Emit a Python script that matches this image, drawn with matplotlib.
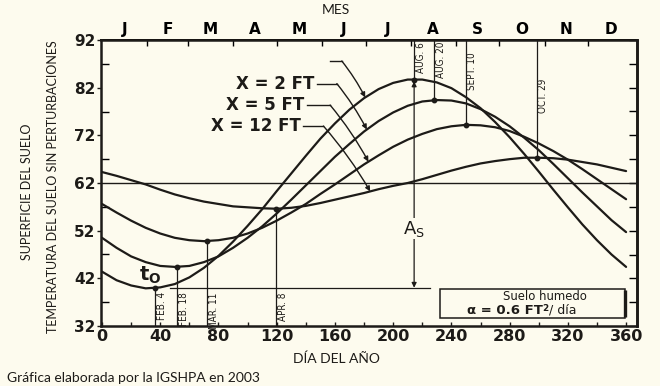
import numpy as np
import matplotlib
matplotlib.use("Agg")
import matplotlib.pyplot as plt
from matplotlib.patches import Rectangle

# ---------------- data ----------------
days = list(range(0, 361, 10))
t_surface = [43.4, 41.6, 40.5, 39.9, 40.1, 40.8, 42.2, 44.2, 46.7, 49.7, 53.0, 56.5, 60.3,
             64.0, 67.7, 71.3, 74.5, 77.4, 79.8, 81.7, 83.0, 83.7, 83.7, 83.1, 81.9, 80.0,
             77.7, 74.8, 71.6, 68.1, 64.4, 60.6, 56.9, 53.3, 50.0, 47.0, 44.4]
t_2ft = [50.5, 48.4, 46.6, 45.4, 44.6, 44.4, 44.6, 45.4, 46.6, 48.4, 50.5, 52.9, 55.6,
         58.5, 61.5, 64.5, 67.5, 70.2, 72.8, 75.0, 76.8, 78.2, 79.1, 79.4, 79.3, 78.7,
         77.5, 75.9, 73.9, 71.5, 68.9, 66.0, 63.0, 60.0, 57.1, 54.2, 51.7]
t_5ft = [57.6, 55.8, 54.1, 52.6, 51.4, 50.5, 50.0, 49.8, 50.0, 50.5, 51.4, 52.6, 54.1,
         55.8, 57.6, 59.7, 61.7, 63.8, 65.9, 67.8, 69.6, 71.1, 72.3, 73.3, 73.9, 74.2,
         74.1, 73.7, 72.9, 71.7, 70.3, 68.7, 66.9, 64.9, 62.8, 60.7, 58.6]
t_12ft = [64.3, 63.5, 62.6, 61.7, 60.6, 59.6, 58.8, 58.1, 57.6, 57.1, 56.9, 56.7, 56.6,
          56.8, 57.2, 57.8, 58.5, 59.2, 59.9, 60.7, 61.4, 62.0, 62.8, 63.7, 64.6, 65.4,
          66.1, 66.6, 67.0, 67.3, 67.3, 67.2, 66.9, 66.4, 65.9, 65.2, 64.5]
mean_temp = 62

months = ["J", "F", "M", "A", "M", "J", "J", "A", "S", "O", "N", "D"]
month_len = [31, 28, 31, 30, 31, 30, 31, 31, 30, 31, 30, 31]

x_ticks = [0, 40, 80, 120, 160, 200, 240, 280, 320, 360]
y_ticks = [32, 42, 52, 62, 72, 82, 92]

date_labels = ["FEB. 4", "FEB. 18", "MAR. 11", "APR. 8", "AUG. 6", "AUG. 20", "SEPT. 10", "OCT. 29"]
date_days = [36.6, 51.3, 72, 119.4, 214.4, 228, 249.7, 298.5]
date_curve = ["s", "2", "5", "12", "s", "2", "5", "12"]

curve_labels = ["X = 2 FT", "X = 5 FT", "X = 12 FT"]

# ---------------- style ----------------
BG = "#fdfbee"
INK = "#1d1b18"
curves = {"s": t_surface, "2": t_2ft, "5": t_5ft, "12": t_12ft}

fig = plt.figure(figsize=(6.6, 3.86), dpi=100, facecolor=BG)
ax = fig.add_axes([101/660, 1-326/386, 536/660, 286/386], facecolor=BG)
ax.set_xlim(-0.7, 367.5)
ax.set_ylim(32, 92)

for key in ["s", "2", "5", "12"]:
    ax.plot(days, curves[key], color=INK, lw=1.6, solid_capstyle="round", zorder=3)

ax.axhline(mean_temp, color=INK, lw=1.0, zorder=2)

# date lines, dots, labels
label_top = {"FEB. 4": 39.1, "FEB. 18": 39.1, "MAR. 11": 39.1, "APR. 8": 39.1,
             "AUG. 6": 91.6, "AUG. 20": 91.6, "SEPT. 10": 89.3, "OCT. 29": 84.0}
dot_y = {}
for lab, d, c in zip(date_labels, date_days, date_curve):
    y = float(np.interp(d, days, curves[c]))
    dot_y[lab] = y
    if y < mean_temp:
        ax.plot([d, d], [32, y], color=INK, lw=0.9, zorder=2)
    else:
        ax.plot([d, d], [y, 92], color=INK, lw=0.9, zorder=2)
    ax.plot([d], [y], "o", color=INK, ms=3.2, zorder=4)
    ax.annotate(lab, xy=(d, label_top[lab]), xytext=(1.4, 0), textcoords="offset points",
                rotation=90, ha="left", va="top", fontsize=7.1, family="DejaVu Sans",
                fontstretch="condensed", color=INK)

# amplitude arrow A_s
base = dot_y["FEB. 4"]
d6 = date_days[4]
top = dot_y["AUG. 6"]
ax.plot([47, 225], [base, base], color=INK, lw=0.9, zorder=2)
ax.annotate("", xy=(d6, top - 0.4), xytext=(d6, base),
            arrowprops=dict(arrowstyle="<|-|>", color=INK, lw=0.9, shrinkA=0, shrinkB=0,
                            mutation_scale=7), zorder=2)
ax.text(d6, 52.4, r"$\mathregular{A_S}$", ha="center", va="center", fontsize=13, color=INK,
        bbox=dict(facecolor=BG, edgecolor="none", pad=0.5), zorder=5)

# t_o
ax.text(33, 42.6, r"$\mathbf{t}_\mathbf{O}$", ha="center", va="center", fontsize=14, color=INK, zorder=5)

# leaders with arrows
lead = [  # (label, y_level, start, bend, tip_day, curve)
    (None, 87.6, 156.7, 164.7, 180.8, "s"),
    (curve_labels[0], 82.85, 147.6, 161.3, 181.9, "2"),
    (curve_labels[1], 78.35, 140.7, 156.7, 183.0, "5"),
    (curve_labels[2], 73.95, 138.4, 152.1, 184.2, "12"),
]
for lab, yl, x0, x1, tip, c in lead:
    ty = float(np.interp(tip, days, curves[c]))
    ax.plot([x0, x1], [yl, yl], color=INK, lw=1.0, zorder=2)
    ax.annotate("", xy=(tip, ty), xytext=(x1, yl),
                arrowprops=dict(arrowstyle="-|>", color=INK, lw=1.0, shrinkA=0, shrinkB=0,
                                mutation_scale=7, connectionstyle="arc3,rad=-0.05"), zorder=2)
    if lab:
        ax.text(x0 - 2, yl, lab, ha="right", va="center", fontsize=12, fontweight="bold", color=INK)

# legend box
ax.add_patch(Rectangle((232, 33.74), 127.2, 5.93, facecolor=BG, edgecolor=INK, lw=1.1, zorder=5))
ax.plot([359.2, 359.2], [33.8, 39.6], color=INK, lw=2.4, zorder=6, solid_capstyle="butt")
ax.text(304.3, 38.25, "Suelo humedo", ha="center", va="center", fontsize=8.4, color=INK, zorder=7)
t1 = ax.text(250.6, 35.3, "α = 0.6 FT", ha="left", va="center", fontsize=9.5, fontweight="bold",
             color=INK, zorder=7)
t2 = ax.annotate("2", xy=(1, 0.3), xycoords=t1, ha="left", va="bottom", fontsize=6.3,
                 fontweight="bold", color=INK, zorder=7)
ax.annotate("/ día", xy=(1, 0.5), xycoords=(t2, t1), ha="left", va="center", fontsize=9,
            color=INK, zorder=7)

# ticks
ax.set_xticks(x_ticks)
ax.set_xticklabels([str(v) for v in x_ticks], fontweight="bold", fontsize=11.5)
ax.set_xticks(np.arange(20, 361, 40), minor=True)
ax.tick_params(axis="x", which="both", direction="in", length=3, width=1, pad=2, colors=INK)
ax.set_yticks(y_ticks)
ax.set_yticklabels([str(v) for v in y_ticks], fontweight="bold", fontsize=11)
ax.set_yticks(np.arange(37, 92, 10), minor=True)
ax.tick_params(axis="y", which="major", direction="out", length=3, width=1, pad=1, colors=INK)
ax.tick_params(axis="y", which="minor", direction="in", length=6, width=1)

secx = ax.secondary_xaxis("top")
starts = np.concatenate([[0], np.cumsum(month_len)])
mids = (starts[:-1] + starts[1:]) / 2
secx.set_xticks(starts[1:-1])
secx.set_xticklabels([""] * (len(starts) - 2))
secx.set_xticks(mids, labels=months, minor=True, fontweight="bold", fontsize=11)
secx.tick_params(which="major", direction="in", length=4, width=1)
secx.tick_params(which="minor", length=0, pad=2)

secy = ax.secondary_yaxis("right")
secy.set_yticks(np.arange(32, 93, 5))
secy.tick_params(direction="in", length=6, width=1, labelright=False)

for sp in ax.spines.values():
    sp.set_linewidth(1.8)
    sp.set_color(INK)
secx.spines["top"].set_linewidth(1.4)
secy.spines["right"].set_linewidth(1.8)

# outer texts
ff = ["Lato", "DejaVu Sans"]
fig.text(27/660, 1-192/386, "SUPERFICIE DEL SUELO", rotation=90, ha="center", va="center",
         fontsize=9, family=ff, color=INK)
fig.text(53/660, 1-187/386, "TEMPERATURA DEL SUELO SIN PERTURBACIONES", rotation=90,
         ha="center", va="center", fontsize=9, family=ff, color=INK)
fig.text(336/660, 1-10/386, "MES", ha="center", va="center", fontsize=10, family=ff, color=INK)
fig.text(336/660, 1-359/386, "DÍA DEL AÑO", ha="center", va="center", fontsize=10, family=ff,
         color=INK)
fig.text(7/660, 1-378/386, "Gráfica elaborada por la IGSHPA en 2003", ha="left", va="center",
         fontsize=10, family=ff, color=INK)

fig.savefig("out.png", dpi=100, facecolor=BG)
